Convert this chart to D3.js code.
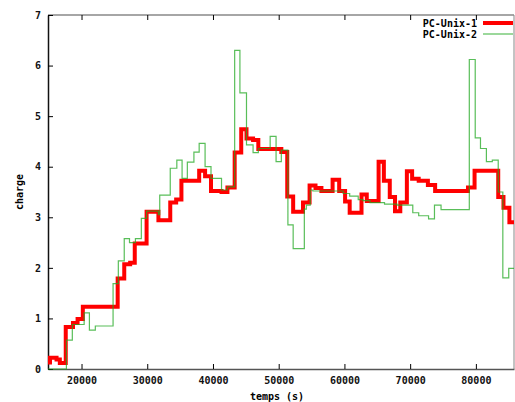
<!DOCTYPE html>
<html>
<head>
<meta charset="utf-8">
<script src="https://cdn.jsdelivr.net/npm/d3@7"></script>
<style>
  body { margin: 0; background: #fff; }
  text { font-family: "DejaVu Sans Mono", monospace; font-weight: bold; }
</style>
</head>
<body>
<svg width="515" height="402"></svg>
<script>
// step data (x in seconds, y = charge)
var unix1Temps = [14900, 15200, 16200, 16700, 17600, 18700, 19400, 20200, 25500, 26500,
  27400, 28100, 29900, 31700, 33500, 34400, 35200, 37900, 38800, 39700,
  41300, 42200, 43300, 44300, 45100, 46100, 46900, 50400, 51300, 52200,
  53700, 54700, 55600, 56500, 58200, 59200, 60100, 60800, 62600, 63400,
  65200, 66000, 66900, 67700, 68500, 69500, 70300, 71300, 72700, 73800,
  78800, 79800, 83400, 84200, 85100, 85800]
var unix1Charge = [0.13, 0.22, 0.19, 0.12, 0.83, 0.91, 0.99, 1.23, 1.79, 2.07,
  2.10, 2.48, 3.11, 2.94, 3.29, 3.35, 3.72, 3.92, 3.81, 3.52,
  3.50, 3.59, 4.28, 4.74, 4.56, 4.53, 4.35, 4.29, 3.41, 3.11,
  3.29, 3.63, 3.58, 3.52, 3.74, 3.52, 3.31, 3.09, 3.45, 3.32,
  4.10, 3.72, 3.40, 3.12, 3.29, 3.91, 3.76, 3.72, 3.64, 3.52,
  3.59, 3.92, 3.40, 3.19, 2.90, 2.90]

var unix2Temps = [14900, 17700, 18600, 20400, 21200, 22100, 24800, 25600, 26500, 27300,
  28200, 29100, 29900, 31700, 31900, 33500, 34500, 35300, 36100, 37100,
  37900, 38800, 39700, 41300, 42200, 43300, 44100, 45100, 46100, 46900,
  48700, 49600, 50400, 51400, 52200, 53900, 54200, 54800, 55200, 59800,
  60800, 62100, 62800, 63900, 66100, 68000, 70400, 71300, 72800, 73700,
  74700, 79000, 79900, 80700, 81600, 82500, 83400, 84100, 85000, 85800]
var unix2Charge = [0, 0.57, 0.88, 1.11, 0.77, 0.85, 1.69, 2.14, 2.58, 2.50,
  2.58, 2.98, 3.12, 3.05, 3.44, 3.97, 4.13, 3.77, 4.09, 4.29,
  4.46, 4.00, 3.77, 3.54, 3.60, 6.30, 5.46, 4.43, 4.28, 4.36,
  4.60, 4.10, 4.33, 2.85, 2.38, 3.16, 3.24, 3.54, 3.52, 3.47,
  3.42, 3.35, 3.33, 3.29, 3.26, 3.24, 3.09, 3.03, 2.97, 3.24,
  3.15, 6.12, 4.57, 4.36, 4.10, 4.13, 3.50, 1.80, 1.99, 1.99]

var xTicks = [20000, 30000, 40000, 50000, 60000, 70000, 80000]
var yTicks = [0, 1, 2, 3, 4, 5, 6, 7]
var seriesNames = ["PC-Unix-1", "PC-Unix-2"]

var svg = d3.select("svg"),
  plotLeft = 48, plotTop = 15, plotRight = 514, plotBottom = 369

var xScale = d3.scaleLinear().domain([14900, 85800]).range([plotLeft, plotRight]),
  yScale = d3.scaleLinear().domain([0, 7]).range([plotBottom, plotTop])

// border
svg.append("line").attr("x1", plotLeft).attr("x2", plotRight).attr("y1", plotTop).attr("y2", plotTop)
  .style("stroke", "#888").style("stroke-width", 1.5)
svg.append("line").attr("x1", plotRight).attr("x2", plotRight).attr("y1", plotTop).attr("y2", plotBottom)
  .style("stroke", "#888").style("stroke-width", 1)

// bottom axis, ticks pointing in
var xAxis = svg.append("g")
  .attr("transform", "translate(0," + plotBottom + ")")
  .call(d3.axisBottom(xScale).tickValues(xTicks).tickFormat(d3.format("d"))
    .tickSize(-5).tickPadding(8).tickSizeOuter(0))
xAxis.select(".domain").style("stroke", "#555").style("stroke-width", 1.5)
xAxis.selectAll("text").style("font-size", "10px").attr("fill", "#111")

// top ticks
svg.append("g")
  .attr("transform", "translate(0," + plotTop + ")")
  .call(d3.axisTop(xScale).tickValues(xTicks).tickSize(-5).tickFormat("").tickSizeOuter(0))
  .select(".domain").remove()

var yAxis = svg.append("g")
  .attr("transform", "translate(" + plotLeft + ",0)")
  .call(d3.axisLeft(yScale).tickValues(yTicks).tickFormat(d3.format("d"))
    .tickSize(-5).tickPadding(7).tickSizeOuter(0))
yAxis.select(".domain").style("stroke", "#111").style("stroke-width", 1.5)
yAxis.selectAll("text").style("font-size", "10px").attr("fill", "#111")

// labels
svg.append("text")
  .attr("x", 277).attr("y", 400)
  .attr("text-anchor", "middle")
  .style("font-size", "10px")
  .text("temps (s)")

svg.append("text")
  .attr("text-anchor", "middle")
  .attr("transform", "translate(23," + ((plotTop + plotBottom) / 2) + ")rotate(-90)")
  .style("font-size", "10px")
  .text("charge")

var line = d3.line()
  .x(function (d) { return xScale(d[0]); })
  .y(function (d) { return yScale(d[1]); })
  .curve(d3.curveStepAfter)

var data1 = unix1Temps.map(function (t, i) { return [t, unix1Charge[i]]; })
var data2 = unix2Temps.map(function (t, i) { return [t, unix2Charge[i]]; })

svg.append("path")
  .datum(data1)
  .attr("d", line)
  .style("fill", "none")
  .style("stroke", "#ff0000")
  .style("stroke-width", 4)

svg.append("path")
  .datum(data2)
  .attr("d", line)
  .style("fill", "none")
  .style("stroke", "#22a822")
  .style("stroke-opacity", 0.75)
  .style("stroke-width", 1.2)

// legend
var legendColors = ["#ff0000", "#22a822"],
  legendWidths = [4, 1.2]
seriesNames.forEach(function (name, i) {
  var ly = 23 + i * 11
  svg.append("text")
    .attr("x", 477).attr("y", ly + 3.5)
    .attr("text-anchor", "end")
    .style("font-size", "10px")
    .text(name)
  svg.append("line")
    .attr("x1", 483).attr("x2", 513).attr("y1", ly).attr("y2", ly)
    .style("stroke", legendColors[i])
    .style("stroke-opacity", i == 1 ? 0.75 : 1)
    .style("stroke-width", legendWidths[i])
})
</script>
</body>
</html>
